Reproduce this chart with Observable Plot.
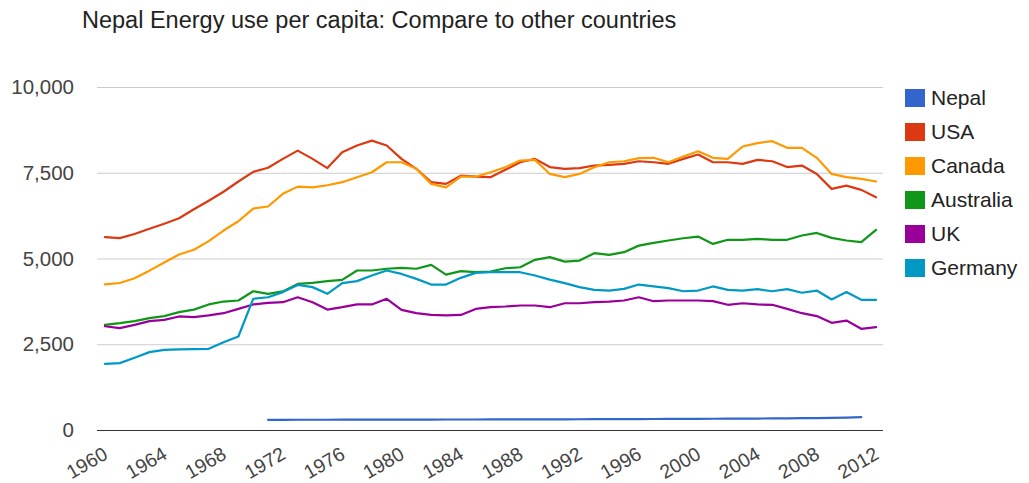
<!DOCTYPE html>
<html>
<head>
<meta charset="utf-8">
<script src="https://cdn.jsdelivr.net/npm/d3@7"></script>
<script src="https://cdn.jsdelivr.net/npm/@observablehq/plot@0.6"></script>
<style>
  html, body { margin: 0; padding: 0; background: #fff; }
  #chart { position: relative; width: 1029px; height: 483px; }
</style>
</head>
<body>
<div id="chart"></div>
<script>
// Energy use per capita (kg of oil equivalent), 1960–2012
const years = [
  1960, 1961, 1962, 1963, 1964, 1965, 1966, 1967, 1968, 1969,
  1970, 1971, 1972, 1973, 1974, 1975, 1976, 1977, 1978, 1979,
  1980, 1981, 1982, 1983, 1984, 1985, 1986, 1987, 1988, 1989,
  1990, 1991, 1992, 1993, 1994, 1995, 1996, 1997, 1998, 1999,
  2000, 2001, 2002, 2003, 2004, 2005, 2006, 2007, 2008, 2009,
  2010, 2011, 2012
];

const countries = ["Nepal", "USA", "Canada", "Australia", "UK", "Germany"];
const colors = ["#3366cc", "#dc3912", "#ff9900", "#109618", "#990099", "#0099c6"];

const nepal = [
  null, null, null, null, null, null, null, null, null, null,
  null, 311, 312, 313, 314, 314, 315, 316, 316, 317,
  318, 318, 319, 320, 321, 321, 322, 323, 324, 325,
  326, 327, 328, 330, 331, 332, 333, 335, 337, 339,
  341, 343, 345, 347, 349, 352, 355, 358, 362, 369,
  377, 388, null
];
const usa = [
  5640, 5610, 5730, 5880, 6030, 6190, 6450, 6700, 6960, 7260,
  7540, 7660, 7920, 8160, 7920, 7650, 8110, 8310, 8450, 8310,
  7920, 7630, 7240, 7190, 7430, 7400, 7385, 7600, 7820, 7920,
  7680, 7630, 7650, 7725, 7745, 7775, 7850, 7820, 7775, 7920,
  8045, 7820, 7820, 7775, 7890, 7850, 7680, 7725, 7480, 7045,
  7140, 7015, 6800
];
const canada = [
  4260, 4300, 4440, 4660, 4900, 5130, 5270, 5520, 5830, 6100,
  6470, 6530, 6900, 7110, 7090, 7150, 7240, 7385, 7530, 7820,
  7820, 7630, 7190, 7090, 7400, 7400, 7530, 7675, 7870, 7890,
  7480, 7385, 7480, 7675, 7820, 7850, 7940, 7950, 7820, 7990,
  8140, 7950, 7920, 8280, 8380, 8435, 8240, 8240, 7950, 7480,
  7385, 7335, 7260
];
const australia = [
  3080, 3130, 3190, 3275, 3335, 3450, 3525, 3675, 3760, 3790,
  4060, 3985, 4055, 4275, 4305, 4355, 4390, 4665, 4665, 4715,
  4740, 4715, 4830, 4545, 4645, 4615, 4635, 4730, 4760, 4975,
  5055, 4925, 4955, 5170, 5120, 5200, 5390, 5470, 5540, 5605,
  5655, 5440, 5560, 5560, 5585, 5560, 5560, 5685, 5760, 5615,
  5540, 5490, 5850
];
const uk = [
  3040, 2985, 3080, 3190, 3225, 3325, 3305, 3355, 3420, 3545,
  3675, 3720, 3740, 3885, 3740, 3525, 3595, 3675, 3675, 3840,
  3515, 3420, 3370, 3355, 3370, 3545, 3595, 3615, 3645, 3645,
  3595, 3710, 3710, 3740, 3760, 3790, 3885, 3770, 3790, 3790,
  3790, 3770, 3665, 3710, 3675, 3665, 3545, 3420, 3335, 3140,
  3205, 2965, 3015
];
const germany = [
  1945, 1965, 2120, 2285, 2350, 2365, 2375, 2380, 2575, 2740,
  3840, 3885, 4035, 4245, 4180, 3985, 4295, 4355, 4520, 4665,
  4565, 4420, 4255, 4255, 4450, 4595, 4615, 4615, 4615, 4520,
  4400, 4295, 4180, 4100, 4080, 4130, 4255, 4200, 4150, 4060,
  4080, 4200, 4100, 4080, 4120, 4060, 4120, 4015, 4080, 3820,
  4035, 3810, 3810
];

const yTicks = [0, 2500, 5000, 7500, 10000];
const xTicks = [1960, 1964, 1968, 1972, 1976, 1980, 1984, 1988, 1992, 1996, 2000, 2004, 2008, 2012];

const seriesValues = [nepal, usa, canada, australia, uk, germany];
const rows = countries.flatMap((country, k) =>
  years.map((year, i) => ({country, year, value: seriesValues[k][i]}))
);

const font = "Arial, 'Liberation Sans', sans-serif";

const svg = Plot.plot({
  width: 1029,
  height: 483,
  marginLeft: 97,
  marginRight: 146,
  marginTop: 87,
  marginBottom: 53,
  style: {fontFamily: font, background: "#fff", overflow: "visible"},
  x: {type: "linear", domain: [1959.5, 2012.5], label: null},
  y: {domain: [0, 10000], label: null},
  color: {domain: countries, range: colors},
  marks: [
    Plot.gridY(yTicks.filter(d => d > 0), {stroke: "#cccccc", strokeOpacity: 1, strokeWidth: 1}),
    Plot.ruleY([0], {stroke: "#333333", strokeWidth: 1}),
    Plot.axisY(yTicks, {
      tickSize: 0, tickPadding: 23.5, fontSize: 20.5, fill: "#444",
      tickFormat: d3.format(","), label: null
    }),
    Plot.axisX(xTicks, {
      tickSize: 0, tickPadding: 22, tickRotate: -30, fontSize: 19.5, fill: "#444",
      dx: 1, tickFormat: d => String(d), label: null
    }),
    Plot.line(rows, {
      x: "year", y: "value", z: "country", stroke: "country",
      strokeWidth: 2.2, strokeLinejoin: "round", strokeLinecap: "round"
    })
  ]
});

const root = d3.select(svg);

// Title
root.append("text")
  .attr("x", 82)
  .attr("y", 28)
  .attr("text-anchor", "start")
  .attr("font-family", font)
  .attr("font-size", 23.5)
  .attr("fill", "#222")
  .text("Nepal Energy use per capita: Compare to other countries");

// Legend
const legend = root.append("g")
  .attr("text-anchor", "start")
  .attr("font-family", font)
  .attr("font-size", 21);
countries.forEach((name, k) => {
  const cy = 98 + k * 34;
  legend.append("rect")
    .attr("x", 905).attr("y", cy - 9)
    .attr("width", 20).attr("height", 18)
    .attr("fill", colors[k]);
  legend.append("text")
    .attr("x", 931).attr("y", cy)
    .attr("dy", "0.35em")
    .attr("fill", "#222")
    .text(name);
});

document.getElementById("chart").appendChild(svg);
</script>
</body>
</html>
